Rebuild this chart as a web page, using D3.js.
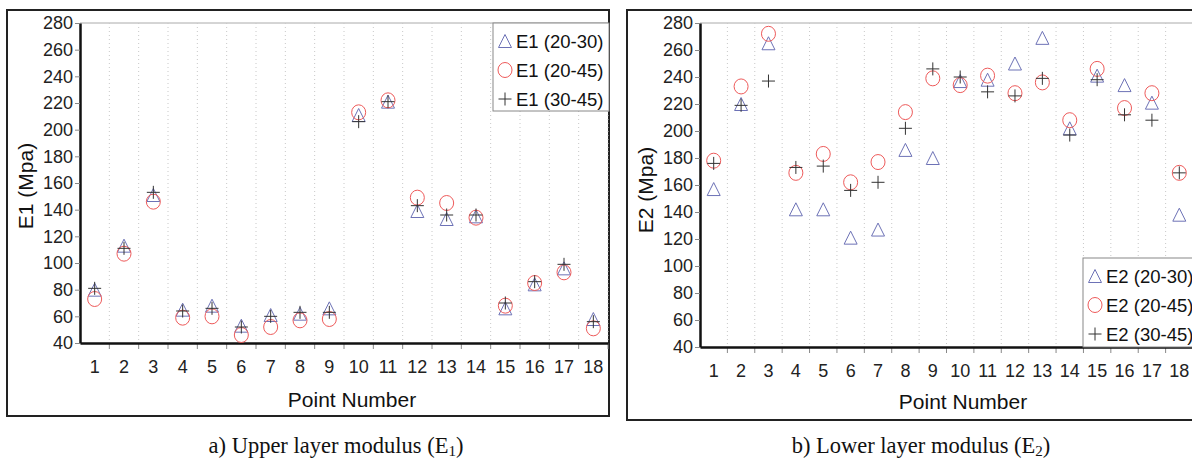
<!doctype html>
<html>
  <head>
    <meta charset="utf-8">
    <script src="https://d3js.org/d3.v7.min.js"></script>
    <style>
      body { margin: 0; background: #fff; }
      svg { display: block; }
      .tick text { font-family: "Liberation Sans", Arial, sans-serif; fill: #222; }
    </style>
  </head>
  <body>
    <div id="chart"></div>
    <script>
      // point numbers on the x axis
      const points = [1, 2, 3, 4, 5, 6, 7, 8, 9, 10, 11, 12, 13, 14, 15, 16, 17, 18];
      const yTicks = [40, 60, 80, 100, 120, 140, 160, 180, 200, 220, 240, 260, 280];

      // upper layer modulus E1 (MPa)
      const e1_20_30 = [80, 113, 151, 65, 68, 53, 61, 62, 66, 211, 221, 139, 133, 135, 66, 84, 96, 58];
      const e1_20_45 = [73, 107, 146, 59, 60, 46, 52, 57, 58, 213, 222, 149, 145, 134, 68, 85, 93, 51];
      const e1_30_45 = [81, 111, 153, 64, 66, 52, 60, 63, 63, 206, 221, 143, 136, 136, 70, 86, 99, 56];

      // lower layer modulus E2 (MPa)
      const e2_20_30 = [157, 220, 265, 142, 142, 121, 127, 186, 180, 237, 238, 250, 269, 202, 241, 234, 221, 138];
      const e2_20_45 = [178, 233, 272, 169, 183, 162, 177, 214, 239, 234, 241, 228, 236, 208, 246, 217, 228, 169];
      const e2_30_45 = [176, 219, 237, 173, 174, 156, 162, 202, 246, 240, 229, 226, 239, 197, 238, 212, 208, 169];

      const legend1 = ["E1 (20-30)", "E1 (20-45)", "E1 (30-45)"];
      const legend2 = ["E2 (20-30)", "E2 (20-45)", "E2 (30-45)"];

      const TRI = "#6d72b6", CIRC = "#ee5a5a", PLUS = "#333";
      const sans = '"Liberation Sans", Arial, sans-serif';
      const serif = '"Liberation Serif", "Times New Roman", serif';

      const svg = d3.select("#chart").append("svg")
        .attr("width", 1192).attr("height", 461);

      function triangle(g, cx, cy) {
        g.append("path")
          .attr("d", `M${cx},${cy - 6.5}L${cx + 6.5},${cy + 6.5}L${cx - 6.5},${cy + 6.5}Z`)
          .attr("fill", "none").attr("stroke", TRI).attr("stroke-width", 1);
      }
      function circle(g, cx, cy) {
        g.append("ellipse").attr("cx", cx).attr("cy", cy).attr("rx", 7).attr("ry", 7.5)
          .attr("fill", "none").attr("stroke", CIRC).attr("stroke-width", 1);
      }
      function plus(g, cx, cy) {
        g.append("path")
          .attr("d", `M${cx - 6.5},${cy}H${cx + 6.5}M${cx},${cy - 6.5}V${cy + 6.5}`)
          .attr("fill", "none").attr("stroke", PLUS).attr("stroke-width", 1);
      }
      const markers = [triangle, circle, plus];

      function panel(o) {
        const g = svg.append("g");

        // outer frame
        g.append("rect").attr("x", o.frame[0]).attr("y", o.frame[1])
          .attr("width", o.frame[2]).attr("height", o.frame[3])
          .attr("fill", "none").attr("stroke", "#222").attr("stroke-width", 2);

        const x = d3.scaleBand().domain(points).range([o.left, o.right]);
        const y = d3.scaleLinear().domain([40, 280]).range([o.bottom, o.top]);

        // top border of the plot
        g.append("line").attr("x1", o.left).attr("x2", o.right)
          .attr("y1", o.top).attr("y2", o.top)
          .attr("stroke", "#aaa").attr("stroke-width", 1);

        // dotted vertical grid at category boundaries
        const bounds = points.slice(1).map(d => x(d)).concat([o.right]);
        g.append("g").selectAll("line").data(bounds).join("line")
          .attr("x1", d => d).attr("x2", d => d)
          .attr("y1", o.top).attr("y2", o.bottom)
          .attr("stroke", "#c8c8c8").attr("stroke-width", 1)
          .attr("stroke-dasharray", "1,3");

        // boundary ticks below the x axis
        g.append("g").selectAll("line").data(bounds).join("line")
          .attr("x1", d => d).attr("x2", d => d)
          .attr("y1", o.bottom).attr("y2", o.bottom + 6)
          .attr("stroke", "#888").attr("stroke-width", 1);

        // x axis
        const xa = g.append("g").attr("transform", `translate(0,${o.bottom})`)
          .call(d3.axisBottom(x).tickSize(0).tickSizeOuter(0).tickPadding(17));
        xa.select(".domain").attr("stroke", "#111").attr("stroke-width", 2.5);
        xa.selectAll(".tick text").style("font-size", "18px");

        // y axis
        const ya = g.append("g").attr("transform", `translate(${o.left},0)`)
          .call(d3.axisLeft(y).tickValues(yTicks).tickSize(5).tickSizeOuter(0).tickPadding(2));
        ya.select(".domain").attr("stroke", "#111").attr("stroke-width", 2.5);
        ya.selectAll(".tick line").attr("stroke", "#888");
        ya.selectAll(".tick text").style("font-size", "18px");

        // markers
        o.series.forEach((vals, s) => {
          const mg = g.append("g");
          vals.forEach((v, i) => markers[s](mg, x(points[i]) + x.bandwidth() / 2, y(v)));
        });

        // axis titles
        g.append("text").attr("x", o.xTitle[0]).attr("y", o.xTitle[1])
          .attr("text-anchor", "middle").attr("font-family", sans).attr("font-size", 21)
          .attr("fill", "#111").text("Point Number");
        g.append("text")
          .attr("transform", `translate(${o.yTitle[0]},${o.yTitle[1]}) rotate(-90)`)
          .attr("text-anchor", "middle").attr("font-family", sans).attr("font-size", 21)
          .attr("fill", "#111").text(o.yLabel);

        // legend
        const lg = g.append("g");
        lg.append("rect").attr("x", o.legend[0]).attr("y", o.legend[1])
          .attr("width", o.legend[2]).attr("height", o.legend[3])
          .attr("fill", "#fff").attr("stroke", "#888").attr("stroke-width", 1);
        o.names.forEach((n, s) => {
          const cy = o.legend[1] + 18 + s * 29;
          markers[s](lg, o.legend[0] + 12, cy);
          lg.append("text").attr("x", o.legend[0] + 23).attr("y", cy + 6.5)
            .attr("font-family", sans).attr("font-size", 18.5).attr("fill", "#111").text(n);
        });

        // caption below the frame
        const cap = g.append("text").attr("x", o.caption[0]).attr("y", o.caption[1])
          .attr("text-anchor", "middle").attr("font-family", serif).attr("font-size", 22.5)
          .attr("fill", "#111");
        cap.append("tspan").text(o.capText + " (E");
        cap.append("tspan").attr("font-size", 15).attr("dy", 3).text(o.capSub);
        cap.append("tspan").attr("dy", -3).text(")");
      }

      panel({
        frame: [7, 10, 602, 406],
        left: 80, right: 608, top: 23, bottom: 343,
        series: [e1_20_30, e1_20_45, e1_30_45],
        names: legend1,
        legend: [493, 23, 116, 88],
        xTitle: [352, 407], yTitle: [33, 186], yLabel: "E1 (Mpa)",
        caption: [336, 453], capText: "a) Upper layer modulus", capSub: "1"
      });

      panel({
        frame: [627, 10, 600, 410],
        left: 700, right: 1193, top: 23, bottom: 347,
        series: [e2_20_30, e2_20_45, e2_30_45],
        names: legend2,
        legend: [1083, 258, 116, 89],
        xTitle: [963, 409], yTitle: [653, 190], yLabel: "E2 (Mpa)",
        caption: [921, 453], capText: "b) Lower layer modulus", capSub: "2"
      });
    </script>
  </body>
</html>
